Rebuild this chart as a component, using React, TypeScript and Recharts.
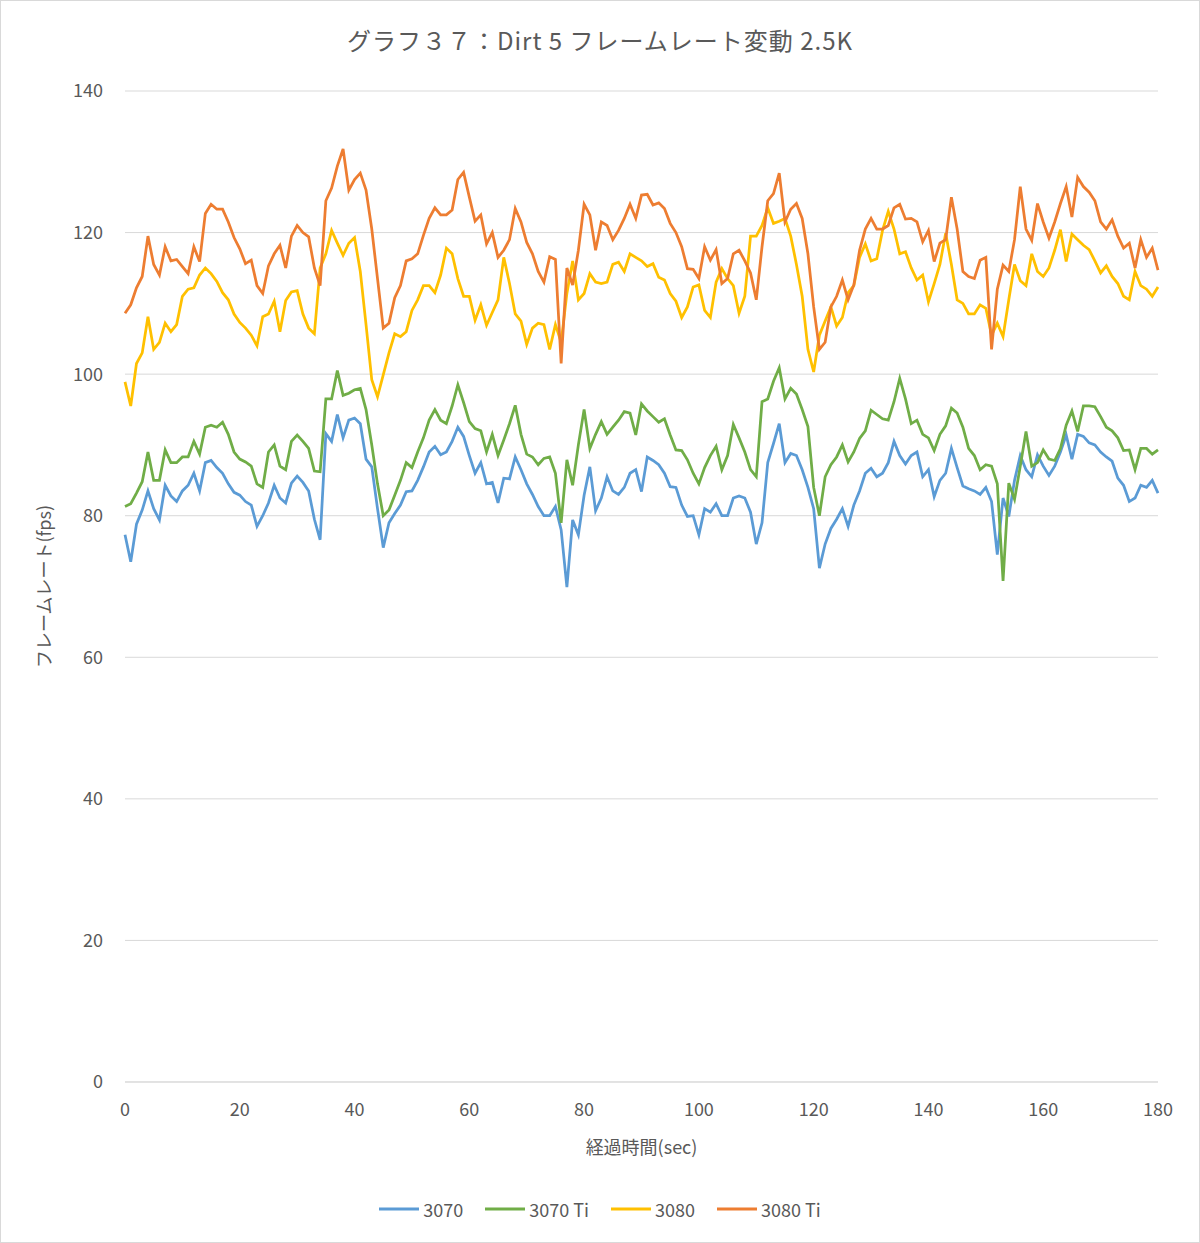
import { LineChart, Line, XAxis, YAxis, CartesianGrid, Legend } from "recharts";

const FONT = '"Noto Sans CJK JP", "Noto Sans", sans-serif';
const TEXT = "#595959";

const chartTitle = "グラフ３７：Dirt 5 フレームレート変動 2.5K";
const xTitle = "経過時間(sec)";
const yTitle = "フレームレート(fps)";

const seconds = Array.from({ length: 181 }, (_, i) => i);
const xTicks = [0, 20, 40, 60, 80, 100, 120, 140, 160, 180];
const yTicks = [0, 20, 40, 60, 80, 100, 120, 140];

// 3070
const rtx3070 = [
  77.3, 73.5, 78.8, 80.8, 83.5, 81, 79.4, 84.3, 82.8, 82,
  83.5, 84.3, 86, 83.5, 87.5, 87.8, 86.8, 86, 84.5, 83.3,
  82.9, 82, 81.5, 78.5, 80, 81.8, 84.3, 82.5, 81.8, 84.6,
  85.6, 84.7, 83.5, 79.5, 76.6, 91.6, 90.5, 94.3, 91, 93.5,
  93.8, 93, 88, 86.9, 81, 75.5, 79, 80.3, 81.5, 83.4,
  83.5, 85, 86.9, 89, 89.8, 88.6, 89, 90.5, 92.5, 91.2,
  88.5, 86, 87.5, 84.5, 84.7, 81.8, 85.3, 85.2, 88.3, 86.5,
  84.5, 83, 81.3, 80, 80, 81.3, 78, 69.9, 79.4, 77.3,
  82.9, 86.9, 80.7, 82.5, 85.5, 83.5, 83, 84, 86, 86.5,
  83.4, 88.3, 87.8, 87.2, 86, 84.1, 84, 81.5, 79.9, 80,
  77.3, 81, 80.5, 81.7, 80, 80, 82.5, 82.8, 82.5, 80.5,
  76, 79, 87.5, 90.2, 93, 87.5, 88.8, 88.5, 86.5, 84,
  81, 72.6, 76, 78.2, 79.5, 81, 78.5, 81.5, 83.5, 86,
  86.7, 85.5, 86, 87.5, 90.5, 88.5, 87.3, 88.5, 89, 85.5,
  86.5, 82.7, 85, 86, 89.5, 86.8, 84.2, 83.8, 83.5, 83,
  84, 82, 74.5, 82.5, 79.9, 85, 88.5, 86.5, 85.5, 88.6,
  87, 85.7, 87, 89, 91.4, 88, 91.5, 91.2, 90.3, 90,
  89, 88.3, 87.7, 85.3, 84.3, 82, 82.5, 84.3, 84, 85,
  83.2,
];

// 3070 Ti
const rtx3070Ti = [
  81.3, 81.7, 83.2, 84.8, 89, 85, 85, 89.3, 87.5, 87.5,
  88.3, 88.3, 90.5, 88.7, 92.5, 92.8, 92.5, 93.2, 91.5, 89,
  88, 87.6, 87, 84.5, 84, 89, 90, 87, 86.5, 90.5,
  91.4, 90.5, 89.5, 86.3, 86.2, 96.5, 96.5, 100.5, 97, 97.3,
  97.8, 98, 95, 90, 84.5, 80, 80.8, 82.9, 85, 87.5,
  86.8, 89, 91, 93.5, 95, 93.5, 93, 95.5, 98.5, 96,
  93.3, 92.3, 92, 89, 91.5, 88.5, 90.7, 93, 95.6, 91.5,
  88.7, 88.3, 87.2, 88.1, 88.3, 86, 79, 87.9, 84.3, 90,
  95, 89.5, 91.5, 93.3, 91.5, 92.5, 93.5, 94.7, 94.5, 91.4,
  95.8, 94.8, 94, 93.2, 93.7, 91.4, 89.3, 89.2, 87.9, 86,
  84.5, 86.8, 88.5, 89.8, 86.5, 88.5, 92.9, 91, 89, 86.5,
  85.5, 96.1, 96.5, 99, 100.9, 96.5, 98, 97.2, 95, 92.6,
  84, 80, 85.5, 87.2, 88.3, 90, 87.6, 89, 90.9, 92,
  94.9, 94.3, 93.7, 93.5, 96.1, 99.4, 96.5, 93, 93.5, 91.5,
  91, 89.2, 91.5, 92.7, 95.2, 94.5, 92.5, 89.5, 88.5, 86.5,
  87.2, 87, 84.5, 70.8, 84.6, 82.3, 87, 91.9, 87, 87.5,
  89.3, 88, 87.8, 89.5, 92.8, 94.8, 91.9, 95.5, 95.5, 95.4,
  94, 92.5, 92, 91, 89.2, 89.3, 86.5, 89.5, 89.5, 88.7,
  89.3,
];

// 3080
const rtx3080 = [
  98.9, 95.5, 101.5, 103, 108.1, 103.5, 104.5, 107.2, 106, 107,
  111, 112, 112.2, 114, 115, 114.2, 113.1, 111.5, 110.5, 108.5,
  107.3, 106.5, 105.5, 104, 108.1, 108.5, 110.3, 106, 110.4, 111.6,
  111.8, 108.5, 106.5, 105.7, 115, 117, 120.3, 118.5, 116.8, 118.5,
  119.3, 114.5, 107, 99.2, 96.8, 99.9, 103, 105.7, 105.3, 106,
  109, 110.5, 112.5, 112.5, 111.5, 114, 117.8, 117, 113.5, 111,
  111, 107.6, 109.8, 106.9, 108.7, 110.5, 116.5, 112.8, 108.5, 107.5,
  104.2, 106.5, 107.2, 107, 103.5, 107, 104.5, 111.4, 116, 110.5,
  111.4, 114.2, 113, 112.8, 113, 115.5, 115.8, 114.5, 117, 116.5,
  116, 115.2, 115.6, 113.7, 113.3, 111.4, 110.3, 108, 109.5, 112.3,
  112.6, 109, 108, 113, 114.9, 113.5, 112.5, 108.6, 111, 119.5,
  119.5, 121, 123.5, 121.3, 121.6, 122, 119.5, 115.5, 111, 103.5,
  100.3, 105.5, 107.5, 109.5, 106.8, 108, 111.5, 112.5, 116.5, 118.4,
  116, 116.3, 120.3, 123, 120.5, 117, 117.3, 115, 113.3, 114,
  110.2, 112.8, 115.5, 119.9, 115.5, 110.5, 110, 108.5, 108.5, 109.8,
  109.3, 105.5, 107.2, 105.3, 110.5, 115.5, 113.2, 112.5, 117, 114.5,
  113.8, 115, 117.5, 120.4, 115.9, 119.8, 119, 118.2, 117.6, 116,
  114.3, 115.3, 113.8, 112.8, 111, 110.5, 114.5, 112.5, 112, 111,
  112.3,
];

// 3080 Ti
const rtx3080Ti = [
  108.6, 109.8, 112.2, 113.8, 119.5, 115.5, 114, 118, 116, 116.2,
  115.2, 114.2, 118, 115.9, 122.7, 124, 123.3, 123.3, 121.5, 119.3,
  117.7, 115.6, 116.1, 112.5, 111.4, 115.3, 117, 118.2, 115, 119.5,
  121, 120, 119.4, 115, 112.5, 124.5, 126.3, 129.4, 131.8, 126,
  127.5, 128.4, 126, 120.5, 113.5, 106.5, 107.2, 110.8, 112.5, 116,
  116.3, 117, 119.6, 122, 123.5, 122.5, 122.5, 123.2, 127.5, 128.5,
  125, 121.6, 122.5, 118.4, 120, 116.5, 117.5, 119, 123.4, 121.5,
  118.6, 117, 114.5, 113, 116.6, 116.2, 101.5, 115, 112.6, 117.5,
  124, 122.5, 117.5, 121.5, 121, 119, 120.3, 122, 124, 122,
  125.3, 125.4, 123.9, 124.2, 123.4, 121.3, 120, 118, 114.9, 114.8,
  113.5, 118, 116.1, 117.6, 112.8, 113.5, 117, 117.5, 116, 114.3,
  110.5, 118, 124.5, 125.5, 128.4, 121.5, 123.3, 124.1, 122, 117,
  109.5, 103.5, 104.5, 109.5, 111, 113.3, 110.5, 112.6, 117.5, 120.5,
  122, 120.5, 120.5, 121, 123.5, 124, 121.9, 122, 121.5, 118.7,
  120.3, 115.9, 118.5, 119, 125, 120.5, 114.5, 113.8, 113.5, 116.1,
  116.5, 103.5, 112, 115.4, 114.5, 119, 126.5, 120.5, 118.9, 124.1,
  121.5, 119.2, 121.5, 124.1, 126.5, 122.2, 127.8, 126.5, 125.7, 124.5,
  121.5, 120.5, 121.8, 119.5, 117.8, 118.5, 115, 119, 116.5, 117.8,
  114.7,
];

const seriesList = [
  { key: "rtx3070", name: "3070", color: "#5B9BD5" },
  { key: "rtx3070Ti", name: "3070 Ti", color: "#70AD47" },
  { key: "rtx3080", name: "3080", color: "#FFC000" },
  { key: "rtx3080Ti", name: "3080 Ti", color: "#ED7D31" },
];

const data = seconds.map((t, i) => ({
  t,
  rtx3070: rtx3070[i],
  rtx3070Ti: rtx3070Ti[i],
  rtx3080: rtx3080[i],
  rtx3080Ti: rtx3080Ti[i],
}));

function LegendRow(props: any) {
  const items = props.payload || [];
  return (
    <div style={{ display: "flex", justifyContent: "center", alignItems: "center", height: 26 }}>
      {items.map((item: any) => (
        <div key={item.value} style={{ display: "flex", alignItems: "center", margin: "0 11px" }}>
          <svg width={40} height={4} style={{ marginRight: 4 }}>
            <line x1={0} y1={2} x2={40} y2={2} stroke={item.color} strokeWidth={3} />
          </svg>
          <span style={{ fontSize: 18, color: TEXT, fontFamily: FONT }}>{item.value}</span>
        </div>
      ))}
    </div>
  );
}

export default function App() {
  const tickStyle = { fill: TEXT, fontSize: 18, fontFamily: FONT };
  return (
    <div
      style={{
        position: "absolute",
        left: 0,
        top: 0,
        width: 1200,
        height: 1243,
        background: "#fff",
        fontFamily: FONT,
      }}
    >
      <div
        style={{
          position: "absolute",
          top: 26,
          left: 0,
          width: 1200,
          textAlign: "center",
          fontSize: 24,
          letterSpacing: 1,
          lineHeight: "28px",
          color: TEXT,
        }}
      >
        {chartTitle}
      </div>
      <LineChart
        width={1200}
        height={1243}
        data={data}
        margin={{ top: 91, right: 42, bottom: 61, left: 0 }}
      >
        <CartesianGrid vertical={false} stroke="#d9d9d9" />
        <XAxis
          dataKey="t"
          type="number"
          domain={[0, 180]}
          ticks={xTicks}
          height={100}
          tickLine={false}
          tickMargin={15}
          axisLine={{ stroke: "#d9d9d9" }}
          tick={tickStyle}
          label={{
            value: xTitle,
            position: "insideBottom",
            offset: 28,
            style: { fill: TEXT, fontSize: 18, fontFamily: FONT },
          }}
        />
        <YAxis
          type="number"
          domain={[0, 140]}
          ticks={yTicks}
          width={125}
          tickLine={false}
          axisLine={false}
          tickMargin={16}
          tick={tickStyle}
          label={{
            value: yTitle,
            angle: -90,
            position: "insideLeft",
            offset: 45,
            style: { textAnchor: "middle", fill: TEXT, fontSize: 18, fontFamily: FONT },
          }}
        />
        <Legend
          layout="horizontal"
          align="center"
          verticalAlign="middle"
          wrapperStyle={{ top: 1196, left: 0, width: 1200 }}
          content={LegendRow}
        />
        {seriesList.map((s) => (
          <Line
            key={s.key}
            type="linear"
            dataKey={s.key}
            name={s.name}
            stroke={s.color}
            strokeWidth={2.75}
            dot={false}
            activeDot={false}
            isAnimationActive={false}
          />
        ))}
      </LineChart>
      <div
        style={{
          position: "absolute",
          inset: 0,
          border: "1px solid #d9d9d9",
          pointerEvents: "none",
        }}
      />
    </div>
  );
}
